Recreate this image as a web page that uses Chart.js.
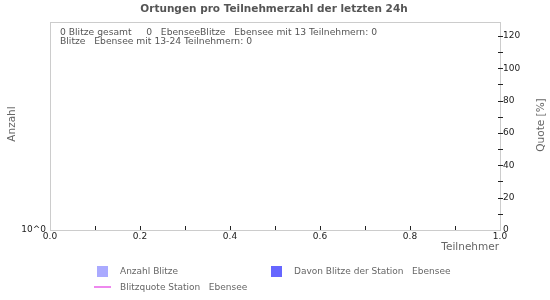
<!DOCTYPE html>
<html>
<head>
<meta charset="utf-8">
<script src="https://cdn.jsdelivr.net/npm/chart.js@4"></script>
<style>
  html, body { margin: 0; padding: 0; background: #fff; }
  #chart { display: block; }
</style>
</head>
<body>
<canvas id="chart" width="550" height="300"></canvas>
<script>
// data (no strikes in the last 24h -> all series empty)
const participants = [];
const strikeCounts = [];
const stationCounts = [];
const stationQuote = [];

const seriesLabels = ["Anzahl Blitze", "Davon Blitze der Station   Ebensee", "Blitzquote Station   Ebensee"];
const infoLines = [
  "0 Blitze gesamt     0   EbenseeBlitze   Ebensee mit 13 Teilnehmern: 0",
  "Blitze   Ebensee mit 13-24 Teilnehmern: 0"
];
const xTickLabels = ["0.0", "0.2", "0.4", "0.6", "0.8", "1.0"];
const quoteTickLabels = ["0", "20", "40", "60", "80", "100", "120"];

const FONT = "DejaVu Sans";

// frame, inward ticks, title, axis titles, info text and legend
const decorations = {
  id: "decorations",
  afterDraw(chart) {
    const ctx = chart.ctx;
    const a = chart.chartArea;
    const x = chart.scales.x;
    const q = chart.scales.y2;
    ctx.save();

    ctx.strokeStyle = "#cccccc";
    ctx.lineWidth = 1;
    ctx.beginPath();
    ctx.moveTo(a.left, a.top + 0.5);
    ctx.lineTo(a.right, a.top + 0.5);
    ctx.stroke();

    ctx.strokeStyle = "#222";
    ctx.beginPath();
    for (let i = 1; i < 10; i++) {
      const px = Math.round(x.getPixelForValue(i / 10)) + 0.5;
      ctx.moveTo(px, a.bottom);
      ctx.lineTo(px, a.bottom - 4);
    }
    for (let v = 10; v <= 120; v += 10) {
      const py = Math.round(q.getPixelForValue(v)) + 0.5;
      ctx.moveTo(a.right - 2, py);
      ctx.lineTo(a.right + 3, py);
    }
    ctx.stroke();

    // title
    ctx.fillStyle = "#555";
    ctx.font = "bold 10.5px '" + FONT + "'";
    ctx.textAlign = "center";
    ctx.textBaseline = "middle";
    ctx.fillText("Ortungen pro Teilnehmerzahl der letzten 24h", 274, 9);

    // axis titles
    ctx.fillStyle = "#666";
    ctx.font = "10.5px '" + FONT + "'";
    ctx.textAlign = "right";
    ctx.fillText("Teilnehmer", a.right - 1, 247);
    ctx.textAlign = "center";
    ctx.save();
    ctx.translate(12, 124);
    ctx.rotate(-Math.PI / 2);
    ctx.fillText("Anzahl", 0, 0);
    ctx.restore();
    ctx.save();
    ctx.translate(541, 125);
    ctx.rotate(-Math.PI / 2);
    ctx.fillText("Quote [%]", 0, 0);
    ctx.restore();

    // info text
    ctx.fillStyle = "#555";
    ctx.font = "9.2px '" + FONT + "'";
    ctx.textAlign = "left";
    infoLines.forEach((t, i) => ctx.fillText(t, 60, 33 + i * 9));

    // legend
    const ds = chart.data.datasets;
    ctx.font = "9px '" + FONT + "'";
    ctx.fillStyle = ds[0].backgroundColor;
    ctx.fillRect(97, 266, 11, 11);
    ctx.fillStyle = ds[1].backgroundColor;
    ctx.fillRect(271, 266, 11, 11);
    ctx.strokeStyle = ds[2].borderColor;
    ctx.lineWidth = 2;
    ctx.beginPath();
    ctx.moveTo(94, 287);
    ctx.lineTo(111, 287);
    ctx.stroke();
    ctx.fillStyle = "#666";
    ctx.fillText(ds[0].label, 120, 272);
    ctx.fillText(ds[1].label, 294, 272);
    ctx.fillText(ds[2].label, 120, 288);

    ctx.restore();
  }
};

const axisGrid = { display: true, drawOnChartArea: false, drawTicks: false, tickLength: 0 };

new Chart(document.getElementById("chart"), {
  type: "bar",
  data: {
    labels: participants,
    datasets: [
      { label: seriesLabels[0], data: strikeCounts, backgroundColor: "#aaaaff", yAxisID: "y" },
      { label: seriesLabels[1], data: stationCounts, backgroundColor: "#6666ff", yAxisID: "y" },
      { type: "line", label: seriesLabels[2], data: stationQuote, borderColor: "#ee88ee",
        backgroundColor: "#ee88ee", borderWidth: 2, pointRadius: 0, yAxisID: "y2" }
    ]
  },
  options: {
    responsive: false,
    animation: false,
    layout: { padding: { top: 22, left: 0, right: 0, bottom: 0 } },
    plugins: { legend: { display: false }, title: { display: false }, tooltip: { enabled: false } },
    scales: {
      x: {
        type: "linear",
        offset: false,
        min: 0,
        max: 1,
        grid: { ...axisGrid, offset: false },
        border: { color: "#cccccc" },
        afterFit: (s) => { s.height = 70; },
        ticks: {
          stepSize: 0.1,
          autoSkip: false,
          maxRotation: 0,
          padding: 1,
          color: "#222",
          font: { family: FONT, size: 9 },
          callback: (v) => {
            const t = v.toFixed(1);
            return xTickLabels.includes(t) ? t : "";
          }
        }
      },
      y: {
        type: "logarithmic",
        position: "left",
        min: 1,
        max: 10,
        grid: axisGrid,
        border: { color: "#cccccc" },
        afterFit: (s) => { s.width = 50; },
        ticks: {
          padding: 4,
          color: "#222",
          font: { family: FONT, size: 9 },
          callback: (v) => (v === 1 ? "10^0" : "")
        }
      },
      y2: {
        type: "linear",
        position: "right",
        min: 0,
        max: 128.6,
        grid: axisGrid,
        border: { color: "#cccccc" },
        afterFit: (s) => { s.width = 50; },
        ticks: {
          stepSize: 10,
          padding: 3,
          color: "#222",
          font: { family: FONT, size: 9 },
          callback: (v) => (quoteTickLabels.includes(String(v)) ? String(v) : "")
        }
      }
    }
  },
  plugins: [decorations]
});
</script>
</body>
</html>
